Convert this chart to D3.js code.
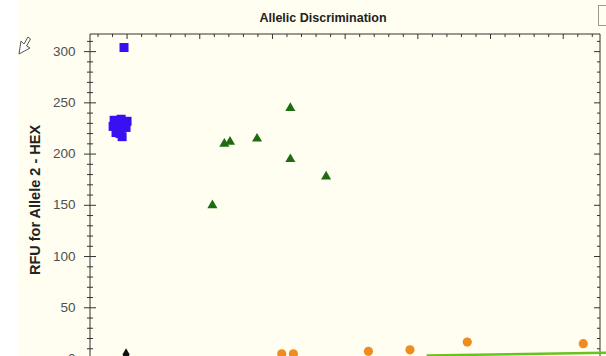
<!DOCTYPE html>
<html>
<head>
<meta charset="utf-8">
<script src="https://cdn.jsdelivr.net/npm/d3@7"></script>
<style>
  html, body { margin: 0; padding: 0; background: #ffffff; overflow: hidden; }
  svg { display: block; font-family: "Liberation Sans", Arial, sans-serif; }
</style>
</head>
<body>
<svg id="chart" width="606" height="356"></svg>
<script>
// RFU readings per call group: [Allele 1 - FAM, Allele 2 - HEX]
const allele2Calls = [
  [-21, 304], [-89, 233], [-41, 234], [0, 232], [-7, 226],
  [-96, 227], [-55, 227], [-48, 220], [-34, 217], [-76, 221]
];
const heterozygousCalls = [
  [587, 150], [669, 210], [708, 212], [894, 215],
  [1123, 245], [1123, 195], [1369, 178]
];
const allele1Calls = [
  [1064, 5], [1144, 5], [1660, 7.5], [1946, 9], [2340, 16.5], [3138, 15]
];
const noTemplateCalls = [[-7, 4.5]];
const guideLine = [[2060, 3.5], [3300, 6]];

const yTickValues = [0, 50, 100, 150, 200, 250, 300];
const xMajorStep = 500;

const svg = d3.select("#chart");
const W = 606, H = 356;
const plot = { left: 90, top: 34, right: 600, bottom: 359 };

// page background
svg.append("rect").attr("x", 0).attr("y", 0).attr("width", W).attr("height", H).attr("fill", "#ffffff");
svg.append("rect").attr("x", 18).attr("y", 0).attr("width", W - 18).attr("height", H).attr("fill", "#fffef0");

const x = d3.scaleLinear().domain([-255, 3253]).range([plot.left, plot.right]);
const y = d3.scaleLinear().domain([0, 317.2]).range([plot.bottom, plot.top]);

// title
svg.append("text").attr("x", 323).attr("y", 22).attr("text-anchor", "middle")
  .attr("font-size", 12.5).attr("font-weight", "bold").attr("fill", "#222")
  .text("Allelic Discrimination");

// small panel edge at top right
svg.append("rect").attr("x", 598.5).attr("y", 5.5).attr("width", 12).attr("height", 20)
  .attr("fill", "none").attr("stroke", "#999").attr("stroke-width", 1);

// y axis label
svg.append("text").attr("transform", "translate(40,200) rotate(-90)")
  .attr("text-anchor", "middle").attr("font-size", 14.5).attr("font-weight", "bold").attr("fill", "#222")
  .text("RFU for Allele 2 - HEX");

const axisColor = "#333";

// left axis: major ticks cross the line, minor every 10
const yMinor = d3.range(0, 320, 10).filter(v => v % 50 !== 0);
const leftAxis = svg.append("g");
leftAxis.append("line").attr("x1", plot.left).attr("x2", plot.left).attr("y1", plot.top).attr("y2", H + 10)
  .attr("stroke", axisColor);
leftAxis.selectAll(".maj").data(yTickValues).join("line")
  .attr("x1", plot.left - 6).attr("x2", plot.left + 6)
  .attr("y1", d => y(d)).attr("y2", d => y(d)).attr("stroke", axisColor);
leftAxis.selectAll(".min").data(yMinor).join("line")
  .attr("x1", plot.left - 3).attr("x2", plot.left + 3)
  .attr("y1", d => y(d)).attr("y2", d => y(d)).attr("stroke", axisColor);
leftAxis.selectAll("text").data(yTickValues).join("text")
  .attr("x", 75.5).attr("y", d => y(d)).attr("dy", "0.3em").attr("text-anchor", "end")
  .attr("font-size", 13.5).attr("fill", "#505050").text(d => d);

// right axis: inward ticks
const rightAxis = svg.append("g");
rightAxis.append("line").attr("x1", plot.right).attr("x2", plot.right).attr("y1", plot.top).attr("y2", H + 10)
  .attr("stroke", axisColor);
rightAxis.selectAll(".maj").data(yTickValues).join("line")
  .attr("x1", plot.right - 6).attr("x2", plot.right)
  .attr("y1", d => y(d)).attr("y2", d => y(d)).attr("stroke", axisColor);
rightAxis.selectAll(".min").data(yMinor).join("line")
  .attr("x1", plot.right - 3).attr("x2", plot.right)
  .attr("y1", d => y(d)).attr("y2", d => y(d)).attr("stroke", axisColor);

// top axis: inward ticks, minor every 100
const xDomain = x.domain();
const xMajor = d3.range(0, xDomain[1], xMajorStep);
const xMinor = d3.range(-200, xDomain[1], 100).filter(v => v % xMajorStep !== 0);
const topAxis = svg.append("g");
topAxis.append("line").attr("x1", plot.left).attr("x2", plot.right).attr("y1", plot.top).attr("y2", plot.top)
  .attr("stroke", axisColor);
topAxis.selectAll(".maj").data(xMajor).join("line")
  .attr("x1", d => x(d)).attr("x2", d => x(d)).attr("y1", plot.top).attr("y2", plot.top + 5)
  .attr("stroke", axisColor);
topAxis.selectAll(".min").data(xMinor).join("line")
  .attr("x1", d => x(d)).attr("x2", d => x(d)).attr("y1", plot.top).attr("y2", plot.top + 3)
  .attr("stroke", axisColor);

// pointer cursor outline near the axis
svg.append("path")
  .attr("d", "M19,54 L21,41 L24,44 L28,37 L30.5,39 L26.5,46 L30,48 Z")
  .attr("fill", "#fff").attr("stroke", "#555").attr("stroke-width", 1);

// markers
const pts = svg.append("g");
pts.selectAll(".a2").data(allele2Calls).join("rect")
  .attr("x", d => x(d[0]) - 4.5).attr("y", d => y(d[1]) - 4.5)
  .attr("width", 9).attr("height", 9).attr("fill", "#3a10f2");

const tri = d3.symbol().type(d3.symbolTriangle).size(44);
pts.selectAll(".het").data(heterozygousCalls).join("path")
  .attr("transform", d => `translate(${x(d[0])},${y(d[1])})`)
  .attr("d", tri).attr("fill", "#1d6c12");

pts.selectAll(".a1").data(allele1Calls).join("circle")
  .attr("cx", d => x(d[0])).attr("cy", d => y(d[1])).attr("r", 4.6).attr("fill", "#f08b1f");

const dia = d3.symbol().type(d3.symbolDiamond).size(45);
pts.selectAll(".ntc").data(noTemplateCalls).join("path")
  .attr("transform", d => `translate(${x(d[0])},${y(d[1])})`)
  .attr("d", dia).attr("fill", "#111");

svg.append("line")
  .attr("x1", x(guideLine[0][0])).attr("y1", y(guideLine[0][1]))
  .attr("x2", x(guideLine[1][0])).attr("y2", y(guideLine[1][1]))
  .attr("stroke", "#69c31e").attr("stroke-width", 2.5);
</script>
</body>
</html>
